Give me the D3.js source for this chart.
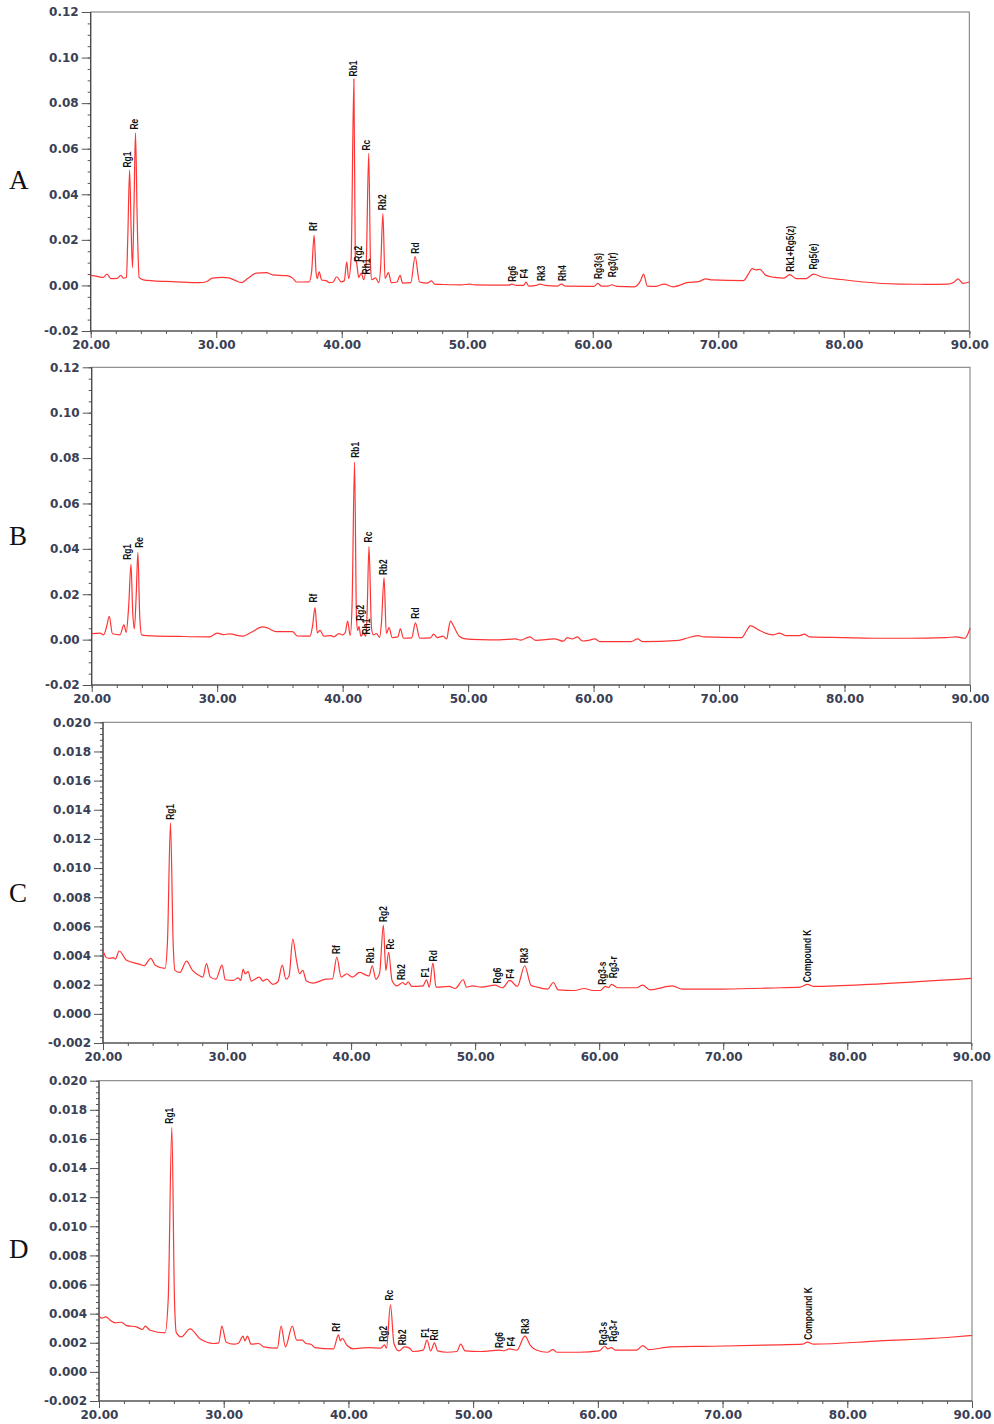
<!DOCTYPE html>
<html>
<head>
<meta charset="utf-8">
<script src="https://cdn.jsdelivr.net/npm/d3@7"></script>
<style>
  body { margin: 0; background: #fff; }
  svg { display: block; }
  .tick text { font-family: "DejaVu Sans", sans-serif; font-weight: bold; font-size: 12px; fill: #3a4055; }
  .tick line { stroke: #555; }
  .peak { font-family: "Liberation Sans", Arial, sans-serif; font-size: 10px; font-weight: bold; fill: #111; }
  .letter { font-family: "Liberation Serif", "Times New Roman", serif; font-size: 27px; fill: #111; }
</style>
</head>
<body>
<div id="chart"></div>
<script>
// retention time (min), absorbance
var xTicks = [20, 30, 40, 50, 60, 70, 80, 90];
var yTicksAB = [-0.02, 0, 0.02, 0.04, 0.06, 0.08, 0.10, 0.12];
var yTicksCD = [-0.002, 0, 0.002, 0.004, 0.006, 0.008, 0.010, 0.012, 0.014, 0.016, 0.018, 0.020];

var traceA = [
  [20.0,0.0044],[20.5,0.0040],[21.0,0.0035],[21.3,0.0050],[21.6,0.0030],[22.1,0.0031],[22.4,0.0044],
  [22.6,0.0032],[22.85,0.0035],[22.95,0.020],[23.1,0.0506],[23.22,0.025],[23.33,0.0078],[23.45,0.035],
  [23.57,0.0670],[23.7,0.030],[23.86,0.0035],[24.2,0.0024],[25,0.0020],[26.5,0.0017],[28.7,0.0012],
  [29.2,0.0016],[29.7,0.0032],[30.5,0.0035],[31.0,0.0033],[31.5,0.0022],[32.0,0.0012],[32.5,0.0030],
  [33.2,0.0054],[34.0,0.0056],[34.5,0.0046],[35.6,0.0043],[36.1,0.0032],[36.4,0.0015],[37.4,0.0016],
  [37.6,0.006],[37.8,0.0220],[37.95,0.006],[38.05,0.0030],[38.2,0.0060],[38.4,0.0024],[38.8,0.0020],
  [39.0,0.0012],[39.3,0.0014],[39.6,0.0038],[39.95,0.0016],[40.2,0.0020],[40.4,0.0103],[40.55,0.0030],
  [40.75,0.012],[40.97,0.0906],[41.08,0.012],[41.2,0.0095],[41.35,0.0035],[41.55,0.0054],[41.75,0.0025],
  [41.95,0.010],[42.15,0.0580],[42.3,0.008],[42.4,0.0025],[42.7,0.0033],[42.95,0.0012],[43.1,0.008],
  [43.28,0.0315],[43.45,0.0030],[43.72,0.0056],[43.95,0.0012],[44.4,0.0015],[44.65,0.0044],[44.85,0.0010],
  [45.5,0.0012],[45.85,0.0126],[46.2,0.0015],[46.8,0.0010],[47.15,0.0020],[47.4,0.0006],[48,0.0004],
  [49.5,0.0002],[50.2,0.0006],[50.6,0.0002],[53.3,0.0001],[53.55,0.0006],[53.9,0.0],[54.5,0.0],
  [54.67,0.0015],[54.9,-0.0003],[55.5,0.0],[55.8,0.0006],[56.2,0.0],[57.2,-0.0003],[57.5,0.0006],
  [57.8,-0.0003],[60.1,-0.0004],[60.4,0.0009],[60.7,-0.0003],[61.2,-0.0003],[61.5,0.0003],[61.9,-0.0004],
  [63.3,-0.0006],[63.8,0.002],[64.05,0.0050],[64.35,-0.0003],[65.0,-0.0004],[65.7,0.0006],[66.4,-0.0006],
  [67.5,0.0012],[68.5,0.0018],[69.0,0.0029],[69.5,0.0024],[72.0,0.0021],[72.4,0.0050],[72.7,0.0074],
  [73.0,0.0068],[73.3,0.0071],[73.8,0.0044],[74.5,0.0035],[75.2,0.0032],[75.7,0.0047],[76.2,0.0030],
  [77.0,0.0030],[77.6,0.0050],[78.2,0.0038],[80.0,0.0025],[81.6,0.0015],[84.5,0.0006],[86.5,0.0005],
  [88.3,0.0006],[88.8,0.0015],[89.1,0.0029],[89.5,0.0009],[90.0,0.0015]
];
var labelsA = [
  ["Rg1",22.95,0.0513],["Re",23.48,0.068],["Rf",37.74,0.0234],["Rb1",40.93,0.0913],["Rg2",41.33,0.0100],
  ["Rh1",41.94,0.0044],["Rc",41.97,0.0588],["Rb2",43.27,0.0326],["Rd",45.9,0.0135],["Rg6",53.6,0.0012],
  ["F4",54.59,0.0026],["Rk3",55.89,0.0015],["Rh4",57.6,0.0015],["Rg3(s)",60.43,0.0024],["Rg3(r)",61.55,0.0032],
  ["Rk1+Rg5(z)",75.73,0.0056],["Rg5(e)",77.6,0.0065]
];

var traceB = [
  [20.0,0.0026],[20.66,0.0029],[20.95,0.0021],[21.2,0.006],[21.4,0.0103],[21.65,0.0026],[22.25,0.0021],
  [22.57,0.0065],[22.75,0.0032],[22.95,0.015],[23.13,0.0332],[23.27,0.012],[23.4,0.0047],[23.55,0.020],
  [23.68,0.0385],[23.83,0.010],[23.98,0.0021],[24.4,0.0018],[27,0.0014],[29.4,0.0012],[30.0,0.0029],
  [30.5,0.0022],[31.0,0.0025],[32.0,0.0015],[32.8,0.0035],[33.6,0.0056],[34.0,0.0052],[34.7,0.0035],
  [36.0,0.0035],[36.4,0.0016],[37.4,0.0015],[37.6,0.006],[37.8,0.0141],[37.98,0.003],[38.2,0.0041],
  [38.5,0.0015],[39.07,0.0018],[39.3,0.0012],[39.7,0.0026],[40.0,0.0021],[40.2,0.003],[40.4,0.0082],
  [40.6,0.0018],[40.75,0.015],[40.95,0.0782],[41.1,0.010],[41.2,0.0040],[41.3,0.0059],[41.45,0.0015],
  [41.65,0.0027],[41.85,0.0015],[41.95,0.012],[42.1,0.0410],[42.3,0.005],[42.45,0.0021],[42.7,0.0027],
  [42.95,0.0010],[43.1,0.008],[43.3,0.0273],[43.48,0.0027],[43.7,0.0053],[43.95,0.0009],[44.4,0.0012],
  [44.6,0.0047],[44.85,0.0006],[45.5,0.0008],[45.8,0.0074],[46.15,0.0006],[47.0,0.0008],[47.25,0.0024],
  [47.55,0.0009],[48.0,0.0015],[48.3,0.0003],[48.45,0.005],[48.6,0.0082],[48.85,0.0059],[49.3,0.0015],
  [49.8,0.0003],[51,0.0],[52.5,-0.0001],[53.75,0.0003],[54.2,-0.0002],[54.9,0.0012],[55.4,-0.0003],
  [56.9,0.0003],[57.6,-0.0007],[57.9,0.0009],[58.3,0.0003],[58.7,0.0012],[59.1,-0.0006],[59.6,-0.0003],
  [60.1,0.0003],[60.5,-0.0009],[63.0,-0.0009],[63.5,0.0003],[63.9,-0.0009],[66.8,-0.0003],[67.4,0.0006],
  [68.3,0.0018],[68.8,0.0012],[71.8,0.0009],[72.2,0.004],[72.5,0.0062],[73.2,0.0041],[74.3,0.0021],
  [74.8,0.0029],[75.3,0.0018],[76.4,0.0018],[76.8,0.0024],[77.2,0.0012],[80,0.0009],[82.8,0.0006],
  [85,0.0006],[88.1,0.0009],[88.9,0.0012],[89.6,0.0006],[90.0,0.0050]
];
var labelsB = [
  ["Rg1",22.87,0.0347],["Re",23.8,0.040],["Rf",37.66,0.0159],["Rb1",41.01,0.0797],["Rg2",41.43,0.0079],
  ["Rh1",41.91,0.0018],["Rc",42.07,0.0424],["Rb2",43.29,0.028],["Rd",45.79,0.0088]
];

var traceC = [
  [20.0,0.00435],[20.24,0.00389],[20.5,0.00380],[20.83,0.00385],[21.0,0.00376],[21.3,0.00431],[21.9,0.00367],
  [23.0,0.00339],[23.3,0.00330],[23.86,0.00380],[24.2,0.00334],[25.0,0.00312],[25.2,0.0050],[25.44,0.01310],
  [25.65,0.005],[25.8,0.00298],[26.2,0.00284],[26.73,0.00362],[27.2,0.0030],[27.8,0.00261],[28.05,0.00252],
  [28.34,0.00344],[28.65,0.00252],[29.1,0.00238],[29.6,0.00334],[29.85,0.00234],[30.5,0.00229],[30.9,0.00247],
  [31.1,0.00229],[31.3,0.00307],[31.45,0.00275],[31.7,0.00289],[31.95,0.00225],[32.6,0.00252],[32.9,0.00225],
  [33.2,0.00238],[33.7,0.00202],[34.1,0.0022],[34.45,0.00334],[34.75,0.00238],[35.0,0.0026],[35.3,0.00513],
  [35.6,0.00367],[35.85,0.00275],[36.1,0.00298],[36.4,0.00225],[36.9,0.00211],[38.0,0.00238],[38.5,0.0024],
  [38.85,0.00389],[39.2,0.00252],[39.65,0.00275],[40.1,0.00252],[40.7,0.00284],[41.2,0.00266],[41.45,0.0026],
  [41.7,0.00330],[42.0,0.00238],[42.3,0.0028],[42.6,0.00609],[42.8,0.00298],[43.03,0.00422],[43.3,0.00229],
  [43.7,0.00192],[44.15,0.00215],[44.4,0.0020],[44.6,0.0022],[44.9,0.00188],[45.8,0.00192],[46.08,0.00234],
  [46.3,0.00183],[46.6,0.00348],[46.85,0.00183],[47.9,0.00188],[48.4,0.00174],[49.04,0.00234],[49.3,0.00183],
  [49.8,0.00192],[50.5,0.00183],[51.6,0.00197],[52.2,0.00179],[52.8,0.00229],[53.4,0.00188],[54.0,0.00330],
  [54.5,0.00197],[55.0,0.00183],[55.85,0.00170],[56.3,0.00215],[56.7,0.00165],[58.0,0.0016],[58.8,0.00174],
  [59.5,0.0016],[60.1,0.0016],[60.5,0.00188],[60.75,0.0018],[61.0,0.00202],[61.5,0.00179],[63.0,0.00179],
  [63.5,0.00197],[64.1,0.00165],[65.9,0.00192],[66.7,0.0017],[70,0.0017],[74.6,0.00179],[76.2,0.00183],
  [76.8,0.00202],[77.3,0.00188],[82.65,0.00206],[90.0,0.00243]
];
var labelsC = [
  ["Rg1",25.43,0.01324],["Rf",38.84,0.00403],["Rb1",41.59,0.0034],["Rg2",42.61,0.00623],["Rc",43.2,0.00435],
  ["Rb2",44.09,0.00225],["F1",45.97,0.00243],["Rd",46.64,0.00353],["Rg6",51.8,0.00202],["F4",52.82,0.00234],
  ["Rk3",53.95,0.0034],["Rg3-s",60.27,0.00192],["Rg3-r",61.16,0.00238],["Compound K",76.8,0.0021]
];

var traceD = [
  [20.0,0.00383],[20.2,0.00369],[20.56,0.00378],[20.9,0.00355],[21.3,0.00337],[21.8,0.00341],[22.2,0.00318],
  [23.0,0.00309],[23.5,0.00291],[23.7,0.00314],[24.1,0.00286],[25.3,0.00268],[25.55,0.005],[25.84,0.01679],
  [26.05,0.005],[26.2,0.0027],[26.6,0.00241],[27.3,0.00296],[28.1,0.00227],[29.2,0.00195],[29.6,0.00199],
  [29.85,0.00314],[30.2,0.00204],[30.8,0.0019],[31.2,0.00199],[31.55,0.00245],[31.7,0.00213],[31.9,0.00245],
  [32.2,0.0019],[32.8,0.00195],[33.2,0.00172],[34.3,0.00163],[34.6,0.00314],[34.95,0.00172],[35.5,0.00314],
  [35.85,0.00218],[36.3,0.00218],[36.6,0.00195],[37.0,0.0019],[37.3,0.00167],[38.8,0.00158],[39.2,0.00254],
  [39.35,0.00213],[39.5,0.00231],[39.9,0.00181],[40.4,0.00158],[41.0,0.00163],[41.6,0.00167],[42.6,0.00163],
  [42.9,0.00186],[43.05,0.00163],[43.37,0.0046],[43.65,0.00195],[44.05,0.00144],[44.5,0.00172],[44.9,0.00163],
  [45.2,0.0014],[46.0,0.00149],[46.3,0.00218],[46.6,0.00144],[46.9,0.00199],[47.15,0.00144],[47.9,0.00135],
  [48.7,0.0014],[49.0,0.00190],[49.35,0.00144],[50.6,0.00140],[52.1,0.00149],[52.5,0.00145],[52.9,0.00158],
  [53.5,0.00149],[54.15,0.00245],[54.6,0.00181],[55.1,0.00149],[55.95,0.00135],[56.4,0.00153],[56.7,0.00135],
  [58.5,0.00135],[60.1,0.00144],[60.56,0.00176],[60.8,0.00158],[61.07,0.00167],[61.4,0.00149],[63.1,0.00149],
  [63.6,0.00181],[64.1,0.00153],[65.8,0.00172],[69.3,0.00176],[74.6,0.00186],[76.4,0.0019],[76.8,0.00204],
  [77.3,0.0019],[82.6,0.00213],[88.0,0.00236],[90.0,0.0025]
];
var labelsD = [
  ["Rg1",25.69,0.01698],["Rf",39.06,0.00268],["Rg2",42.8,0.002],["Rc",43.28,0.00483],["Rb2",44.33,0.00176],
  ["F1",46.14,0.00227],["Rd",46.94,0.00208],["Rg6",52.14,0.00158],["F4",53.05,0.00167],["Rk3",54.17,0.00254],
  ["Rg3-s",60.43,0.00176],["Rg3-r",61.28,0.002],["Compound K",76.89,0.00213]
];

var panels = [
  { name: "A", trace: traceA, labels: labelsA, yTicks: yTicksAB, minor: 0.005, fmt: ".2f",
    left: 90.7, right: 969.3, top: 12, bottom: 331, letterY: 189 },
  { name: "B", trace: traceB, labels: labelsB, yTicks: yTicksAB, minor: 0.005, fmt: ".2f",
    left: 91.7, right: 970, top: 367.3, bottom: 685, letterY: 545 },
  { name: "C", trace: traceC, labels: labelsC, yTicks: yTicksCD, minor: 0.0004, fmt: ".3f",
    left: 103, right: 971.3, top: 722.3, bottom: 1043, letterY: 902 },
  { name: "D", trace: traceD, labels: labelsD, yTicks: yTicksCD, minor: 0.0004, fmt: ".3f",
    left: 99, right: 972, top: 1080.7, bottom: 1401, letterY: 1258 }
];

var svg = d3.select("#chart").append("svg")
  .attr("width", 994)
  .attr("height", 1424);

function hyphenFormat(spec) {
  var f = d3.format(spec);
  return function(d) { return f(d).replace("\u2212", "-"); };
}

panels.forEach(function(p) {
  var yMin = p.yTicks[0], yMax = p.yTicks[p.yTicks.length - 1];
  var x = d3.scaleLinear().domain([20, 90]).range([p.left, p.right]);
  var y = d3.scaleLinear().domain([yMin, yMax]).range([p.bottom, p.top]);
  var g = svg.append("g");

  // minor ticks
  var minorY = d3.range(0, Math.round((yMax - yMin) / p.minor) + 1).map(function(i) { return yMin + i * p.minor; });
  var minorX = d3.range(20, 91, 2);
  g.append("g").attr("transform", "translate(" + p.left + ",0)")
    .call(d3.axisLeft(y).tickValues(minorY).tickSize(3).tickFormat(""))
    .call(function(s) { s.select(".domain").remove(); });
  g.append("g").attr("transform", "translate(0," + p.bottom + ")")
    .call(d3.axisBottom(x).tickValues(minorX).tickSize(3).tickFormat(""))
    .call(function(s) { s.select(".domain").remove(); });

  // major ticks
  g.append("g").attr("transform", "translate(" + p.left + ",0)")
    .call(d3.axisLeft(y).tickValues(p.yTicks).tickSize(9).tickPadding(3).tickFormat(hyphenFormat(p.fmt)))
    .call(function(s) { s.select(".domain").remove(); });
  g.append("g").attr("transform", "translate(0," + p.bottom + ")")
    .call(d3.axisBottom(x).tickValues(xTicks).tickSize(7).tickPadding(2).tickFormat(d3.format(".2f")))
    .call(function(s) { s.select(".domain").remove(); });

  // frame
  g.append("rect")
    .attr("x", p.left).attr("y", p.top)
    .attr("width", p.right - p.left).attr("height", p.bottom - p.top)
    .attr("fill", "none").attr("stroke", "#777").attr("stroke-width", 1);
  g.append("path")
    .attr("d", "M" + p.left + "," + p.top + "V" + p.bottom + "H" + p.right)
    .attr("fill", "none").attr("stroke", "#444").attr("stroke-width", 1.2);

  var line = d3.line()
    .x(function(d) { return x(d[0]); })
    .y(function(d) { return y(d[1]); })
    .curve(d3.curveMonotoneX);

  g.append("path")
    .datum(p.trace)
    .attr("d", line)
    .attr("fill", "none")
    .attr("stroke", "#ff3535")
    .attr("stroke-width", 1.2)
    .attr("stroke-linejoin", "round");

  g.selectAll(".peak")
    .data(p.labels)
    .enter()
    .append("text")
    .attr("class", "peak")
    .attr("transform", function(d) {
      return "translate(" + (x(d[1]) + 3.5) + "," + (y(d[2]) - 1) + ") rotate(-90) scale(0.84,1)";
    })
    .text(function(d) { return d[0]; });

  g.append("text")
    .attr("class", "letter")
    .attr("x", 9)
    .attr("y", p.letterY)
    .text(p.name);
});
</script>
</body>
</html>
